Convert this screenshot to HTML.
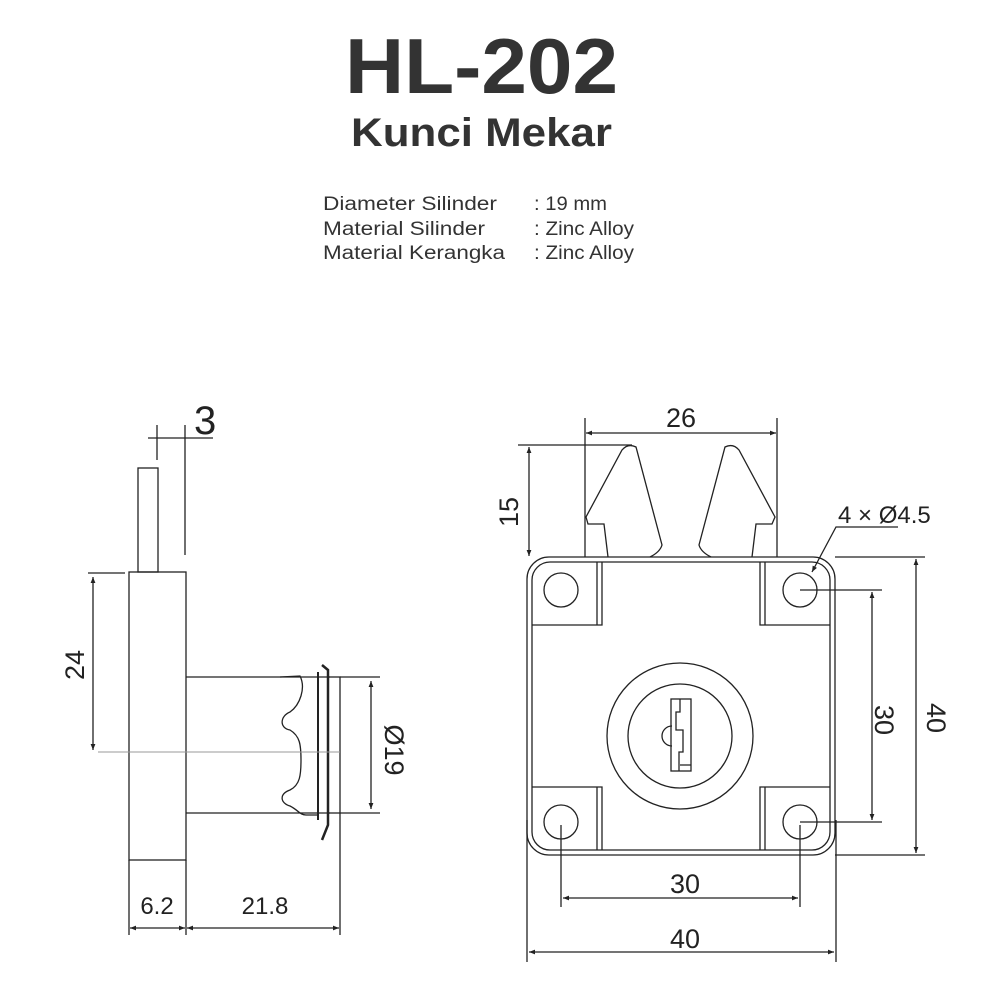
<!DOCTYPE html>
<html><head><meta charset="utf-8"><style>
html,body{margin:0;padding:0;background:#fff}
svg{display:block}
text{font-family:"Liberation Sans",sans-serif}
</style></head><body>
<svg width="1000" height="1000" viewBox="0 0 1000 1000" xmlns="http://www.w3.org/2000/svg">
<defs>
<marker id="a" viewBox="0 0 10 10" refX="10" refY="5" markerWidth="10" markerHeight="6" orient="auto-start-reverse" markerUnits="userSpaceOnUse"><path d="M0,1 L10,5 L0,9 Z" fill="#222"/></marker>
</defs>
<!-- header -->
<text x="345" y="93" font-size="78" font-weight="bold" fill="#333" textLength="273" lengthAdjust="spacingAndGlyphs">HL-202</text>
<text x="351" y="146" font-size="40" font-weight="bold" fill="#333" textLength="261" lengthAdjust="spacingAndGlyphs">Kunci Mekar</text>
<g font-size="19" fill="#333">
<text x="323" y="210" textLength="174" lengthAdjust="spacingAndGlyphs">Diameter Silinder</text>
<text x="323" y="235" textLength="162" lengthAdjust="spacingAndGlyphs">Material Silinder</text>
<text x="323" y="259" textLength="182" lengthAdjust="spacingAndGlyphs">Material Kerangka</text>
<text x="534" y="210" textLength="73" lengthAdjust="spacingAndGlyphs">: 19 mm</text>
<text x="534" y="235" textLength="100" lengthAdjust="spacingAndGlyphs">: Zinc Alloy</text>
<text x="534" y="259" textLength="100" lengthAdjust="spacingAndGlyphs">: Zinc Alloy</text>
</g>

<g stroke="#222" stroke-width="1.3" fill="none">
<!-- LEFT VIEW -->
<rect x="138" y="468" width="20" height="104"/>
<rect x="129" y="572" width="57" height="288"/>
<line x1="186" y1="677" x2="330" y2="677"/>
<line x1="186" y1="813" x2="330" y2="813"/>
<path d="M280,677 L300,676 C306,688 300,705 290,712 C280,716 279,728 290,730 C300,736 301,745 301,760 C301,775 300,785 290,790 C279,794 280,803 290,806 C298,810 300,815 306,815 L318,815"/>
<path d="M322,665 L328,670 L328,825 L322,840" stroke-width="2.5"/>
<line x1="318" y1="672" x2="318" y2="820" stroke-width="2"/>
<rect x="328" y="677" width="12" height="136"/>
<line x1="98" y1="752" x2="340" y2="752" stroke="#999" stroke-width="1"/>
<!-- dim 3 -->
<line x1="157" y1="425" x2="157" y2="460"/>
<line x1="185" y1="425" x2="185" y2="555"/>
<line x1="148" y1="438" x2="213" y2="438"/>
<!-- dim 24 -->
<line x1="88" y1="573" x2="125" y2="573"/>
<line x1="93" y1="577" x2="93" y2="750" marker-start="url(#a)" marker-end="url(#a)"/>
<!-- Ø19 -->
<line x1="340" y1="677" x2="380" y2="677"/>
<line x1="340" y1="813" x2="380" y2="813"/>
<line x1="371" y1="681" x2="371" y2="809" marker-start="url(#a)" marker-end="url(#a)"/>
<!-- bottom -->
<line x1="129" y1="860" x2="129" y2="935"/>
<line x1="186" y1="860" x2="186" y2="935"/>
<line x1="340" y1="813" x2="340" y2="935"/>
<line x1="130" y1="928" x2="185" y2="928" marker-start="url(#a)" marker-end="url(#a)"/>
<line x1="187" y1="928" x2="339" y2="928" marker-start="url(#a)" marker-end="url(#a)"/>

<!-- RIGHT VIEW -->
<rect x="527" y="557" width="308" height="298" rx="22"/>
<rect x="532" y="562" width="298" height="288" rx="18"/>
<path d="M532,625 L602,625 L602,562 M597,562 L597,625"/>
<path d="M830,625 L760,625 L760,562 M765,562 L765,625"/>
<path d="M532,787 L602,787 L602,850 M597,787 L597,850"/>
<path d="M830,787 L760,787 L760,850 M765,787 L765,850"/>
<circle cx="561" cy="590" r="17"/>
<circle cx="800" cy="590" r="17"/>
<circle cx="561" cy="822" r="17"/>
<circle cx="800" cy="822" r="17"/>
<circle cx="680" cy="736" r="73"/>
<circle cx="680" cy="736" r="52"/>
<rect x="671" y="699" width="20" height="72"/>
<path d="M680,699 L680,712 L676,712 L676,730 L683,730 L683,752 L679,752 L679,771 M680,765 L691,765"/>
<path d="M672,726 A10,10 0 0,0 672,746"/>
<!-- latches -->
<path d="M608,557 L604,524 L588,524 L586,517 L622,450 Q628,443 636,447 L662,545 Q660,552 650,557"/>
<path d="M752,557 L756,524 L772,524 L775,517 L739,450 Q733,443 725,447 L699,545 Q701,552 711,557"/>
<!-- dim 26 -->
<line x1="585" y1="418" x2="585" y2="557"/>
<line x1="777" y1="418" x2="777" y2="557"/>
<line x1="586" y1="433" x2="776" y2="433" marker-start="url(#a)" marker-end="url(#a)"/>
<!-- dim 15 -->
<line x1="518" y1="445" x2="632" y2="445"/>
<line x1="529" y1="447" x2="529" y2="556" marker-start="url(#a)" marker-end="url(#a)"/>
<!-- leader -->
<path d="M898,527 L836,527 L812,572" marker-end="url(#a)"/>
<!-- 30 vertical -->
<line x1="800" y1="590" x2="882" y2="590"/>
<line x1="800" y1="822" x2="882" y2="822"/>
<line x1="872" y1="592" x2="872" y2="820" marker-start="url(#a)" marker-end="url(#a)"/>
<!-- 40 vertical -->
<line x1="835" y1="557" x2="925" y2="557"/>
<line x1="835" y1="855" x2="925" y2="855"/>
<line x1="916" y1="559" x2="916" y2="853" marker-start="url(#a)" marker-end="url(#a)"/>
<!-- 30 horizontal -->
<line x1="561" y1="825" x2="561" y2="907"/>
<line x1="800" y1="825" x2="800" y2="907"/>
<line x1="563" y1="898" x2="798" y2="898" marker-start="url(#a)" marker-end="url(#a)"/>
<!-- 40 horizontal -->
<line x1="527" y1="820" x2="527" y2="962"/>
<line x1="836" y1="820" x2="836" y2="962"/>
<line x1="529" y1="952" x2="834" y2="952" marker-start="url(#a)" marker-end="url(#a)"/>
</g>

<g fill="#222" font-size="27">
<text x="194" y="434" font-size="40">3</text>
<text transform="translate(84,665) rotate(-90)" text-anchor="middle">24</text>
<text transform="translate(385,750) rotate(90)" text-anchor="middle">Ø19</text>
<text x="157" y="914" text-anchor="middle" font-size="24">6.2</text>
<text x="265" y="914" text-anchor="middle" font-size="24">21.8</text>
<text x="681" y="427" text-anchor="middle">26</text>
<text transform="translate(518,512) rotate(-90)" text-anchor="middle">15</text>
<text x="838" y="523" font-size="24">4 × Ø4.5</text>
<text transform="translate(875,720) rotate(90)" text-anchor="middle">30</text>
<text transform="translate(927,718) rotate(90)" text-anchor="middle">40</text>
<text x="685" y="893" text-anchor="middle">30</text>
<text x="685" y="948" text-anchor="middle">40</text>
</g>
</svg>
</body></html>
